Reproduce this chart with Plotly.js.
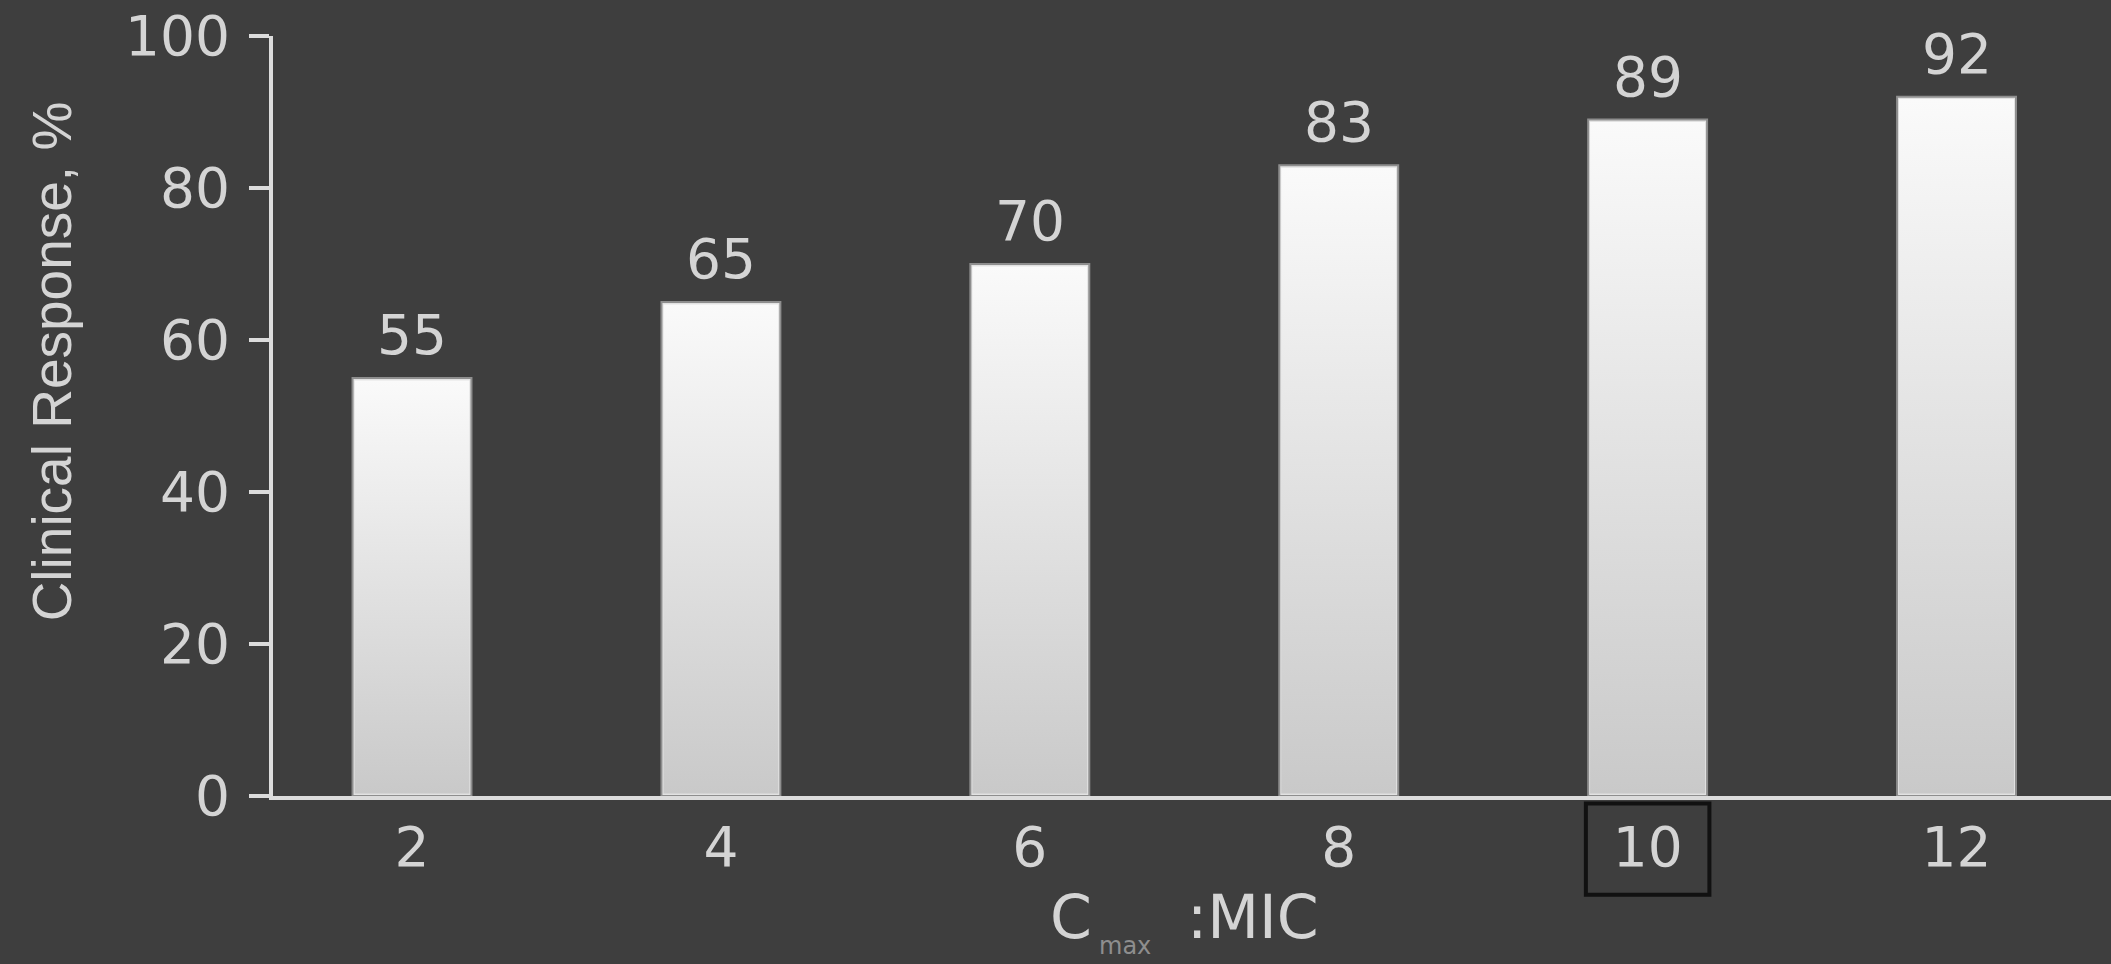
<!DOCTYPE html>
<html>
<head>
<meta charset="utf-8">
<script src="https://cdn.plot.ly/plotly-3.0.1.min.js"></script>
<style>
html,body{margin:0;padding:0;background:#3e3e3e;overflow:hidden}
#chart{width:2111px;height:964px}
</style>
</head>
<body>
<div id="chart"></div>
<script>
// ---- data ----
const categories = ['2', '4', '6', '8', '10', '12'];
const responsePct = [55, 65, 70, 83, 89, 92];
const yTickVals = [0, 20, 40, 60, 80, 100];
const yTickText = ['0', '20', '40', '60', '80', '100'];
const highlightedCategory = '10';
const yTitleText = 'Clinical Response, %';
const xTitleMain = 'C';
const xTitleSub = 'max';
const xTitleRest = ':MIC';

// ---- styles ----
const BG = '#3e3e3e';
const AXIS = '#dcdcdc';
const TXT = '#d4d4d4';
const NUMFONT = 'DejaVu Sans';
const TITLEFONT = 'Liberation Sans, Arial, sans-serif';
const NUMSIZE = 55;
const BARGAP = 0.615;
const BARW = 1 - BARGAP;

const gradSvg = "<svg xmlns='http://www.w3.org/2000/svg' width='10' height='100' viewBox='0 0 10 100' preserveAspectRatio='none'>" +
  "<defs><linearGradient id='g' x1='0' y1='0' x2='0' y2='1'>" +
  "<stop offset='0' stop-color='#fafafa'/><stop offset='0.45' stop-color='#e4e4e4'/><stop offset='1' stop-color='#c9c9c9'/>" +
  "</linearGradient></defs><rect x='0' y='0' width='10' height='100' fill='url(#g)'/></svg>";
const gradUri = 'data:image/svg+xml;charset=utf-8,' + encodeURIComponent(gradSvg);

const barTrace = {
  type: 'bar',
  x: categories,
  y: responsePct,
  marker: { color: '#e2e2e2', line: { color: '#8e8e8e', width: 2 } },
  hoverinfo: 'skip'
};

// value labels above bars (category axis positions given by index)
const valueLabels = responsePct.map((v, i) => ({
  xref: 'x', yref: 'y', x: i, y: v,
  text: String(v), showarrow: false, yanchor: 'bottom', yshift: 9,
  font: { family: NUMFONT, size: NUMSIZE, color: TXT }
}));

// gradient overlays on each bar
const barImages = responsePct.map((v, i) => ({
  source: gradUri, xref: 'x', yref: 'y',
  x: i, y: v - 0.3,
  sizex: BARW - 0.012, sizey: v - 0.6,
  xanchor: 'center', yanchor: 'top',
  sizing: 'stretch', layer: 'above'
}));

const hiIdx = categories.indexOf(highlightedCategory);

const titleAnnots = [
  { xref: 'paper', yref: 'paper', x: -0.1202, y: 0.572, text: yTitleText, textangle: -90,
    showarrow: false, xanchor: 'center', yanchor: 'middle',
    font: { family: TITLEFONT, size: 55, color: TXT } },
  { xref: 'paper', yref: 'paper', x: 0.4342, y: -0.159, text: xTitleMain,
    showarrow: false, xanchor: 'center', yanchor: 'middle',
    font: { family: NUMFONT, size: 60, color: TXT } },
  { xref: 'paper', yref: 'paper', x: 0.4962, y: -0.159, text: xTitleRest,
    showarrow: false, xanchor: 'left', yanchor: 'middle',
    font: { family: NUMFONT, size: 60, color: TXT } },
  { xref: 'paper', yref: 'paper', x: 0.4636, y: -0.219, text: xTitleSub,
    showarrow: false, xanchor: 'center', yanchor: 'bottom',
    font: { family: NUMFONT, size: 24, color: '#8e8e8e' } }
];

const layout = {
  width: 2111, height: 964,
  paper_bgcolor: BG, plot_bgcolor: BG,
  margin: { l: 273, r: 0, t: 36, b: 168, pad: 0 },
  bargap: BARGAP,
  showlegend: false,
  font: { family: NUMFONT, color: TXT },
  xaxis: {
    type: 'category', range: [-0.45, 5.5],
    showline: true, linecolor: AXIS, linewidth: 4,
    ticks: '', ticklen: 0, showgrid: false, zeroline: false,
    tickfont: { family: NUMFONT, size: NUMSIZE, color: TXT },
    ticklabelstandoff: 0, fixedrange: true
  },
  yaxis: {
    range: [0, 100], tickvals: yTickVals, ticktext: yTickText,
    ticks: 'outside', ticklen: 20, tickwidth: 4, tickcolor: AXIS,
    showline: true, linecolor: AXIS, linewidth: 4,
    showgrid: false, zeroline: false,
    tickfont: { family: NUMFONT, size: NUMSIZE, color: TXT },
    ticklabelstandoff: 8, fixedrange: true
  },
  annotations: valueLabels.concat(titleAnnots),
  images: barImages,
  shapes: [{
    type: 'rect', xref: 'x', yref: 'paper',
    x0: hiIdx - 0.2, x1: hiIdx + 0.2, y0: -0.01, y1: -0.13,
    line: { color: '#111111', width: 4 }, fillcolor: 'rgba(0,0,0,0)'
  }]
};

Plotly.newPlot('chart', [barTrace], layout, { displayModeBar: false, staticPlot: true });
</script>
</body>
</html>
